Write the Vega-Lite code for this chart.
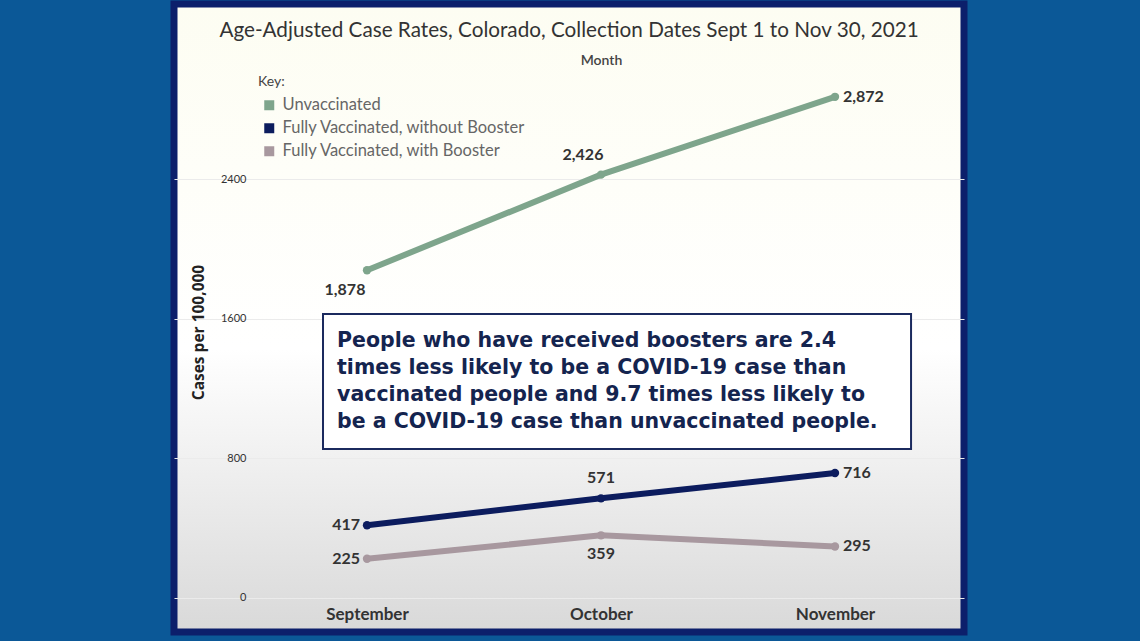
{
  "$schema": "https://vega.github.io/schema/vega-lite/v6.json",
  "width": 790,
  "height": 628,
  "autosize": {"type": "none"},
  "padding": {"left": 174, "top": 4, "right": 176, "bottom": 9},
  "background": "#0b5897",
  "view": {
    "fill": {"gradient": "linear", "x1": 0, "y1": 0, "x2": 0, "y2": 1,
      "stops": [{"offset": 0, "color": "#fdfdf2"}, {"offset": 0.55, "color": "#ffffff"}, {"offset": 1, "color": "#d9d9d9"}]},
    "stroke": "#0c1f6b",
    "strokeWidth": 7
  },
  "title": {
    "text": "Age-Adjusted Case Rates, Colorado, Collection Dates Sept 1 to Nov 30, 2021",
    "anchor": "middle", "offset": -48, "baseline": "middle",
    "font": "Lato", "fontSize": 20.7, "fontWeight": "normal", "color": "#333333"
  },
  "datasets": {
    "rates": [
      {"month": "September", "m": 0, "status": "Unvaccinated", "rate": 1878},
      {"month": "October", "m": 1, "status": "Unvaccinated", "rate": 2426},
      {"month": "November", "m": 2, "status": "Unvaccinated", "rate": 2872},
      {"month": "September", "m": 0, "status": "Fully Vaccinated, without Booster", "rate": 417},
      {"month": "October", "m": 1, "status": "Fully Vaccinated, without Booster", "rate": 571},
      {"month": "November", "m": 2, "status": "Fully Vaccinated, without Booster", "rate": 716},
      {"month": "September", "m": 0, "status": "Fully Vaccinated, with Booster", "rate": 225},
      {"month": "October", "m": 1, "status": "Fully Vaccinated, with Booster", "rate": 359},
      {"month": "November", "m": 2, "status": "Fully Vaccinated, with Booster", "rate": 295}
    ],
    "note": [
      {"x1": -0.188, "x2": 2.325, "y1": 854, "y2": 1628, "tx": -0.128, "ty": 1530,
       "text": "People who have received boosters are 2.4\ntimes less likely to be a COVID-19 case than\nvaccinated people and 9.7 times less likely to\nbe a COVID-19 case than unvaccinated people."}
    ]
  },
  "data": {"name": "rates"},
  "resolve": {"axis": {"x": "independent", "y": "independent"}},
  "layer": [
    {
      "mark": {"type": "line", "strokeWidth": 6, "strokeCap": "round"},
      "encoding": {
        "x": {"field": "m", "type": "quantitative", "scale": {"domain": [-0.8248, 2.5513], "nice": false, "zero": false},
          "axis": {"orient": "bottom", "offset": -28, "values": [0, 1, 2],
            "labelExpr": "['September','October','November'][datum.value]",
            "domain": false, "ticks": false, "grid": false, "labelFont": "Lato", "labelFontSize": 17,
            "labelFontWeight": "bold", "labelColor": "#333333", "labelPadding": 2, "title": null}},
        "y": {"field": "rate", "type": "quantitative", "scale": {"domain": [-195, 3404], "nice": false, "zero": false},
          "axis": {"orient": "left", "offset": -78, "values": [0, 800, 1600, 2400], "format": "d",
            "grid": true, "gridColor": "#ebebeb", "domain": false, "ticks": false,
            "labelFont": "Lato", "labelFontSize": 11, "labelColor": "#333333", "labelPadding": 6,
            "title": "Cases per 100,000", "titleFont": "Open Sans", "titleFontSize": 15.5, "titleFontWeight": "bold",
            "titleColor": "#222222", "titleX": -54, "titleY": 328, "titleAngle": -90, "titleBaseline": "middle"}},
        "color": {"field": "status", "type": "nominal",
          "scale": {"domain": ["Unvaccinated", "Fully Vaccinated, without Booster", "Fully Vaccinated, with Booster"],
            "range": ["#7ea58c", "#0c1c5e", "#a8989f"]},
          "legend": {"orient": "none", "legendX": 84, "legendY": 71, "title": "Key:",
            "titleFont": "Lato", "titleFontSize": 14, "titleFontWeight": "normal", "titleColor": "#444444", "titlePadding": 8,
            "labelFont": "Lato", "labelFontSize": 16.5, "labelColor": "#666666", "labelLimit": 0,
            "symbolType": "square", "symbolSize": 100, "symbolOpacity": 1, "symbolStrokeWidth": 0,
            "rowPadding": 6, "symbolOffset": 3, "labelOffset": 5,
            "encode": {"symbols": {"update": {"fill": {"scale": "color", "field": "value"}, "strokeWidth": {"value": 0}, "opacity": {"value": 1}}}}}},
        "detail": {"field": "status"}
      }
    },
    {
      "mark": {"type": "circle", "size": 70, "opacity": 1},
      "encoding": {
        "x": {"field": "m", "type": "quantitative", "scale": {"domain": [-0.8248, 2.5513], "nice": false, "zero": false},
          "axis": {"orient": "top", "values": [], "labels": false, "ticks": false, "domain": false, "grid": false,
            "title": "Month", "titleX": 427, "titleY": 56, "titleBaseline": "middle", "titleAlign": "center",
            "titleFont": "Lato", "titleFontSize": 14, "titleFontWeight": 600, "titleColor": "#444444"}},
        "y": {"field": "rate", "type": "quantitative", "scale": {"domain": [-195, 3404], "nice": false, "zero": false}, "axis": null},
        "color": {"field": "status", "type": "nominal",
          "legend": {"orient": "none", "legendX": 84, "legendY": 71, "title": "Key:",
            "titleFont": "Lato", "titleFontSize": 14, "titleFontWeight": "normal", "titleColor": "#444444", "titlePadding": 8,
            "labelFont": "Lato", "labelFontSize": 16.5, "labelColor": "#666666", "labelLimit": 0,
            "symbolType": "square", "symbolSize": 100, "symbolOpacity": 1, "symbolStrokeWidth": 0,
            "rowPadding": 6, "symbolOffset": 3, "labelOffset": 5,
            "encode": {"symbols": {"update": {"fill": {"scale": "color", "field": "value"}, "strokeWidth": {"value": 0}, "opacity": {"value": 1}}}}}}
      }
    },
    {
      "data": {"name": "note"},
      "mark": {"type": "rect", "fill": "#ffffff", "stroke": "#1b2a5e", "strokeWidth": 2},
      "encoding": {
        "x": {"field": "x1", "type": "quantitative", "scale": {"domain": [-0.8248, 2.5513], "nice": false, "zero": false}, "axis": null},
        "x2": {"field": "x2"},
        "y": {"field": "y1", "type": "quantitative", "scale": {"domain": [-195, 3404], "nice": false, "zero": false}, "axis": null},
        "y2": {"field": "y2"}
      }
    },
    {
      "data": {"name": "note"},
      "mark": {"type": "text", "align": "left", "baseline": "top", "lineBreak": "\n", "lineHeight": 27,
        "font": "DejaVu Sans", "fontSize": 20.5, "fontWeight": "bold", "color": "#14244f"},
      "encoding": {
        "x": {"field": "tx", "type": "quantitative", "axis": null},
        "y": {"field": "ty", "type": "quantitative", "axis": null},
        "text": {"field": "text"}
      }
    },
    {
      "transform": [{"filter": "datum.month == 'November'"}],
      "mark": {"type": "text", "align": "left", "dx": 8, "font": "Lato", "fontSize": 16, "fontWeight": "bold", "color": "#333333"},
      "encoding": {
        "x": {"field": "m", "type": "quantitative", "axis": null},
        "y": {"field": "rate", "type": "quantitative", "axis": null},
        "text": {"field": "rate", "type": "quantitative", "format": ",d"}
      }
    },
    {
      "transform": [{"filter": "datum.month == 'September' && datum.status != 'Unvaccinated'"}],
      "mark": {"type": "text", "align": "right", "dx": -7, "font": "Lato", "fontSize": 16, "fontWeight": "bold", "color": "#333333"},
      "encoding": {
        "x": {"field": "m", "type": "quantitative", "axis": null},
        "y": {"field": "rate", "type": "quantitative", "axis": null},
        "text": {"field": "rate", "type": "quantitative", "format": ",d"}
      }
    },
    {
      "transform": [{"filter": "datum.month == 'September' && datum.status == 'Unvaccinated'"}],
      "mark": {"type": "text", "align": "center", "dx": -22, "dy": 20, "font": "Lato", "fontSize": 16, "fontWeight": "bold", "color": "#333333"},
      "encoding": {
        "x": {"field": "m", "type": "quantitative", "axis": null},
        "y": {"field": "rate", "type": "quantitative", "axis": null},
        "text": {"field": "rate", "type": "quantitative", "format": ",d"}
      }
    },
    {
      "transform": [{"filter": "datum.month == 'October' && datum.status == 'Unvaccinated'"}],
      "mark": {"type": "text", "align": "center", "dx": -18, "dy": -20, "font": "Lato", "fontSize": 16, "fontWeight": "bold", "color": "#333333"},
      "encoding": {
        "x": {"field": "m", "type": "quantitative", "axis": null},
        "y": {"field": "rate", "type": "quantitative", "axis": null},
        "text": {"field": "rate", "type": "quantitative", "format": ",d"}
      }
    },
    {
      "transform": [{"filter": "datum.month == 'October' && datum.status == 'Fully Vaccinated, without Booster'"}],
      "mark": {"type": "text", "align": "center", "dy": -20, "font": "Lato", "fontSize": 16, "fontWeight": "bold", "color": "#333333"},
      "encoding": {
        "x": {"field": "m", "type": "quantitative", "axis": null},
        "y": {"field": "rate", "type": "quantitative", "axis": null},
        "text": {"field": "rate", "type": "quantitative", "format": ",d"}
      }
    },
    {
      "transform": [{"filter": "datum.month == 'October' && datum.status == 'Fully Vaccinated, with Booster'"}],
      "mark": {"type": "text", "align": "center", "dy": 19, "font": "Lato", "fontSize": 16, "fontWeight": "bold", "color": "#333333"},
      "encoding": {
        "x": {"field": "m", "type": "quantitative", "axis": null},
        "y": {"field": "rate", "type": "quantitative", "axis": null},
        "text": {"field": "rate", "type": "quantitative", "format": ",d"}
      }
    }
  ]
}
